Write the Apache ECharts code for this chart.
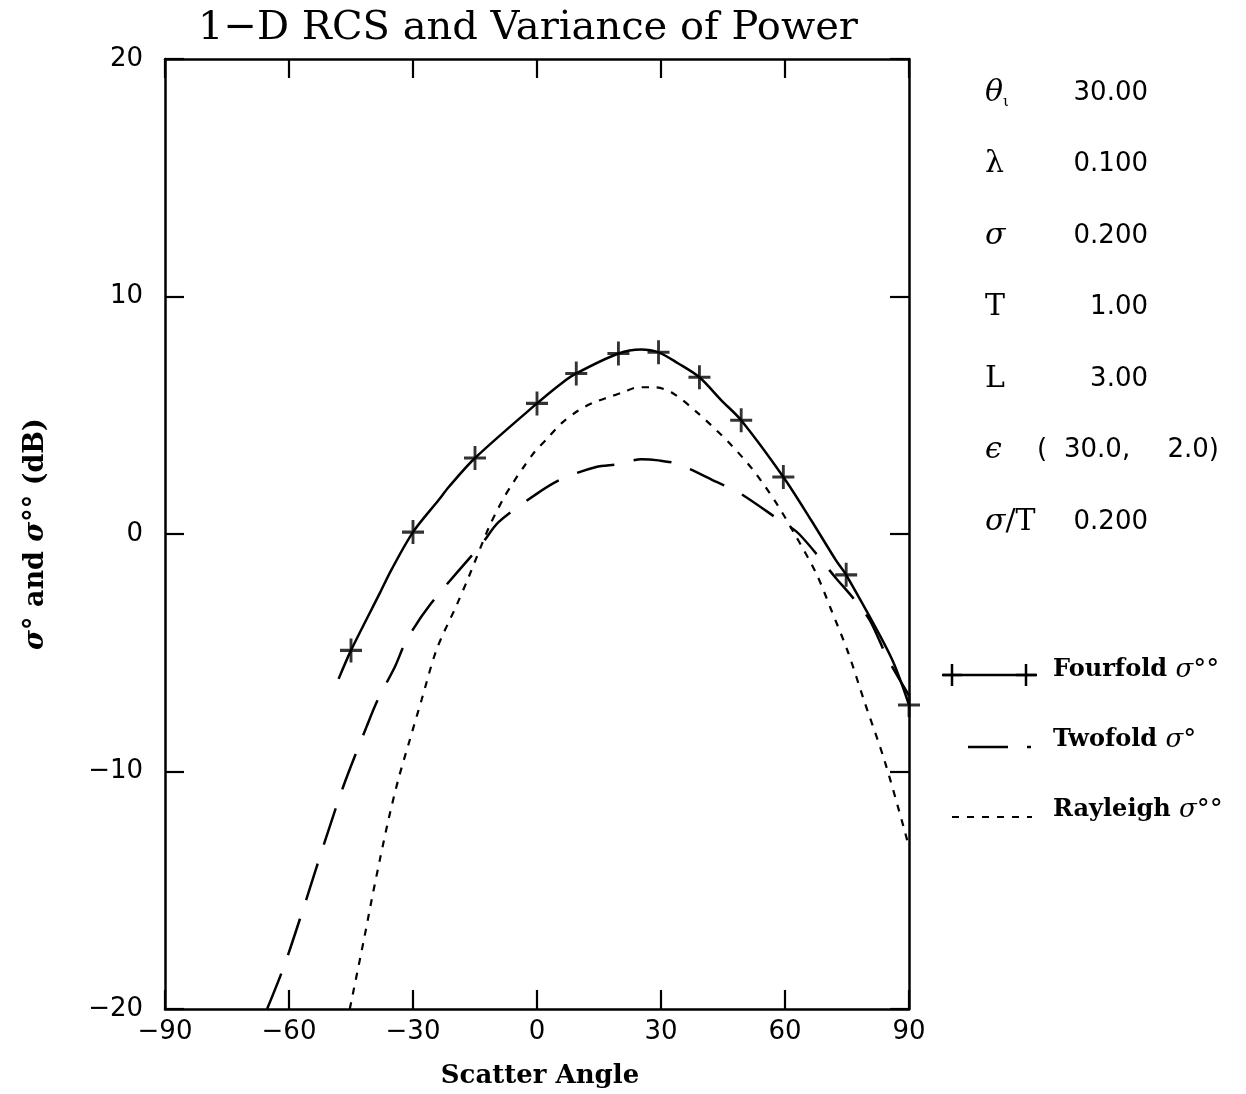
<!DOCTYPE html>
<html>
<head>
<meta charset="utf-8">
<script src="https://cdn.jsdelivr.net/npm/echarts@6/dist/echarts.min.js"></script>
<style>
html,body{margin:0;padding:0;background:#fff;}
#chart{width:1246px;height:1094px;}
</style>
</head>
<body>
<div id="chart"></div>
<script>
// ---- data (scatter angle in degrees, value in dB) ----
const xTicks = [-90, -60, -30, 0, 30, 60, 90];
const yTicks = [-20, -10, 0, 10, 20];

const fourfoldCurve = [[-48,-6.1],[-45,-4.9],[-38,-2.48],[-35.2,-1.5],[-30,0.08],[-23.8,1.43],[-21.4,1.97],[-15,3.2],[0,5.5],[5.9,6.34],[9.5,6.76],[19.7,7.6],[25.2,7.77],[29.4,7.65],[34.2,7.18],[39.3,6.6],[44.6,5.63],[49.4,4.79],[59.6,2.4],[66.3,0.59],[72.3,-1.1],[74.8,-1.72],[85.6,-5.17],[90,-7.2]];
const fourfoldMarkers = [[-45,-4.9],[-30,0.08],[-15,3.2],[0,5.5],[9.5,6.76],[19.7,7.6],[29.4,7.65],[39.3,6.6],[49.4,4.79],[59.6,2.4],[74.8,-1.72],[90,-7.2]];
const twofoldCurve = [[-65.3,-20],[-61.2,-18.2],[-56.4,-15.7],[-51.8,-13.2],[-46.8,-10.6],[-41.2,-8.1],[-38.5,-6.97],[-34.4,-5.6],[-31.5,-4.45],[-25.7,-2.94],[-13.2,-0.38],[-9.3,0.5],[0,1.7],[5.9,2.31],[14.3,2.82],[19.7,2.94],[25.2,3.15],[29.4,3.1],[34.2,2.94],[43.6,2.18],[48.7,1.76],[58.6,0.59],[63.4,0],[72.3,-1.85],[76.5,-2.7],[80.4,-3.6],[85,-5.3],[90,-6.8]];
const rayleighCurve = [[-45.3,-20],[-41.9,-17.1],[-40,-15.4],[-38,-13.7],[-35.9,-12],[-33.5,-10.3],[-31,-8.8],[-27.9,-6.97],[-24.3,-4.87],[-19.4,-2.98],[-16.5,-1.8],[-11.7,0.25],[-8.1,1.5],[-5.7,2.18],[-3.3,2.8],[-0.6,3.45],[2.8,4.08],[5.9,4.66],[10,5.2],[13.9,5.55],[17.3,5.76],[20.9,5.97],[24.5,6.18],[28.2,6.18],[32.5,5.97],[39,5.08],[46.3,3.87],[52.3,2.69],[57.9,1.3],[62.2,0.04],[67.5,-1.64],[71.2,-3.2],[75.3,-5],[79.1,-7],[84,-9.5],[88.8,-12.4],[90,-13.2]];

const paramSymbols = ['θ', 'λ', 'σ', 'T', 'L', 'ϵ', 'σ/T'];
const paramValues = ['30.00', '0.100', '0.200', '1.00', '3.00', '', '0.200'];
const epsilonParts = ['(', '30.0,', '2.0)'];
const legendNames = ['Fourfold ', 'Twofold ', 'Rayleigh '];
const legendSup = ['σ°°', 'σ°', 'σ°°'];

// ---- chart ----
const chart = echarts.init(document.getElementById('chart'), null, {renderer: 'canvas'});
const serif = 'DejaVu Serif';
const sans = 'DejaVu Sans';
const plusPath = 'path://M4.35,0H5.65V4.35H10V5.65H5.65V10H4.35V5.65H0V4.35H4.35Z';
const minusFmt = v => String(v).replace('-', '\u2212');

function axisBase() {
  return {
    axisLine: {show: true, onZero: false, lineStyle: {color: '#000', width: 2.5}},
    axisTick: {show: true, inside: true, length: 19, lineStyle: {color: '#000', width: 2.2}},
    splitLine: {show: false}
  };
}
function xAx(pos, showLabel) {
  return Object.assign(axisBase(), {
    type: 'value', position: pos, min: -90, max: 90, interval: 30,
    axisLabel: {show: showLabel, color: '#000', fontFamily: sans, fontSize: 26, margin: 10, formatter: minusFmt}
  });
}
function yAx(pos, showLabel) {
  return Object.assign(axisBase(), {
    type: 'value', position: pos, min: -20, max: 20, interval: 10,
    axisLabel: {show: showLabel, color: '#000', fontFamily: sans, fontSize: 26, margin: 22, formatter: minusFmt}
  });
}

const graphics = [];
// title
graphics.push({type: 'text', x: 528, y: 29, style: {text: '1\u2212D RCS and Variance of Power', font: '40px "DejaVu Serif"', fill: '#000', align: 'center', verticalAlign: 'middle'}});
// x-axis name
graphics.push({type: 'text', x: 540, y: 1076, style: {text: 'Scatter Angle', font: 'bold 26px "DejaVu Serif"', fill: '#000', align: 'center', verticalAlign: 'middle'}});
// y-axis name
graphics.push({type: 'text', x: 36, y: 534, rotation: Math.PI / 2, style: {
  text: '{g|σ°}{n| and }{g|σ°°}{n| (dB)}',
  align: 'center', verticalAlign: 'middle',
  rich: {
    g: {fontFamily: serif, fontStyle: 'italic', fontWeight: 'bold', fontSize: 27, fill: '#000'},
    n: {fontFamily: serif, fontWeight: 'bold', fontSize: 27, fill: '#000'}
  }
}});
// parameter block
const rowY0 = 93, rowStep = 71.5;
paramSymbols.forEach((s, i) => {
  const y = rowY0 + i * rowStep;
  const italic = (s === 'θ' || s === 'σ' || s === 'ϵ');
  if (s === 'σ/T') {
    graphics.push({type: 'text', x: 985, y: y, style: {text: '{i|σ}{n|/T}', verticalAlign: 'middle', align: 'left',
      rich: {i: {fontFamily: serif, fontStyle: 'italic', fontSize: 30, fill: '#000'}, n: {fontFamily: serif, fontSize: 30, fill: '#000'}}}});
  } else {
    graphics.push({type: 'text', x: 985, y: y, style: {text: s, font: (italic ? 'italic ' : '') + '30px "DejaVu Serif"', fill: '#000', align: 'left', verticalAlign: 'middle'}});
  }
  if (s === 'θ') {
    graphics.push({type: 'text', x: 1003, y: y + 9, style: {text: 'ι', font: '15px "DejaVu Serif"', fill: '#000', align: 'left', verticalAlign: 'middle'}});
  }
  if (paramValues[i]) {
    graphics.push({type: 'text', x: 1148, y: y, style: {text: paramValues[i], font: '26px "DejaVu Sans"', fill: '#000', align: 'right', verticalAlign: 'middle'}});
  }
});
{
  const y = rowY0 + 5 * rowStep;
  graphics.push({type: 'text', x: 1037, y: y, style: {text: epsilonParts[0], font: '26px "DejaVu Sans"', fill: '#000', align: 'left', verticalAlign: 'middle'}});
  graphics.push({type: 'text', x: 1064, y: y, style: {text: epsilonParts[1], font: '26px "DejaVu Sans"', fill: '#000', align: 'left', verticalAlign: 'middle'}});
  graphics.push({type: 'text', x: 1219, y: y, style: {text: epsilonParts[2], font: '26px "DejaVu Sans"', fill: '#000', align: 'right', verticalAlign: 'middle'}});
}
// legend
const legY = [670, 740, 810];
legendNames.forEach((n, i) => {
  graphics.push({type: 'text', x: 1053, y: legY[i], style: {
    text: '{n|' + n + '}{g|' + legendSup[i] + '}', align: 'left', verticalAlign: 'middle',
    rich: {n: {fontFamily: serif, fontWeight: 'bold', fontSize: 24, fill: '#000'},
           g: {fontFamily: serif, fontStyle: 'italic', fontSize: 26, fill: '#000'}}
  }});
});
graphics.push({type: 'line', shape: {x1: 943, y1: 675, x2: 1037, y2: 675}, style: {stroke: '#000', lineWidth: 2.5}});
[952, 1026].forEach(cx => {
  graphics.push({type: 'line', shape: {x1: cx - 10, y1: 675, x2: cx + 10, y2: 675}, style: {stroke: '#000', lineWidth: 2.5}});
  graphics.push({type: 'line', shape: {x1: cx, y1: 664, x2: cx, y2: 686}, style: {stroke: '#000', lineWidth: 2.5}});
});
graphics.push({type: 'line', shape: {x1: 968, y1: 747, x2: 1008, y2: 747}, style: {stroke: '#000', lineWidth: 2.5}});
graphics.push({type: 'line', shape: {x1: 1027, y1: 747, x2: 1031, y2: 747}, style: {stroke: '#000', lineWidth: 2.5}});
graphics.push({type: 'line', shape: {x1: 952, y1: 817, x2: 1032, y2: 817}, style: {stroke: '#000', lineWidth: 2.2, lineDash: [7, 8]}});

const option = {
  animation: false,
  backgroundColor: '#fff',
  grid: {left: 165, right: 337, top: 59, bottom: 85, containLabel: false},
  xAxis: [xAx('bottom', true), xAx('top', false)],
  yAxis: [yAx('left', true), yAx('right', false)],
  graphic: graphics,
  series: [
    {type: 'line', data: fourfoldCurve, smooth: 0.3, showSymbol: false, symbol: 'none',
     lineStyle: {color: '#000', width: 2.5, type: 'solid'}, z: 3},
    {type: 'scatter', data: fourfoldMarkers, symbol: plusPath, symbolSize: [22, 24], clip: false,
     itemStyle: {color: '#000'}, z: 4},
    {type: 'line', data: twofoldCurve, smooth: 0.3, showSymbol: false, symbol: 'none',
     lineStyle: {color: '#000', width: 2.5, type: [38, 20]}, z: 2},
    {type: 'line', data: rayleighCurve, smooth: 0.3, showSymbol: false, symbol: 'none',
     lineStyle: {color: '#000', width: 2.2, type: [7, 8]}, z: 2}
  ]
};
chart.setOption(option);
</script>
</body>
</html>
